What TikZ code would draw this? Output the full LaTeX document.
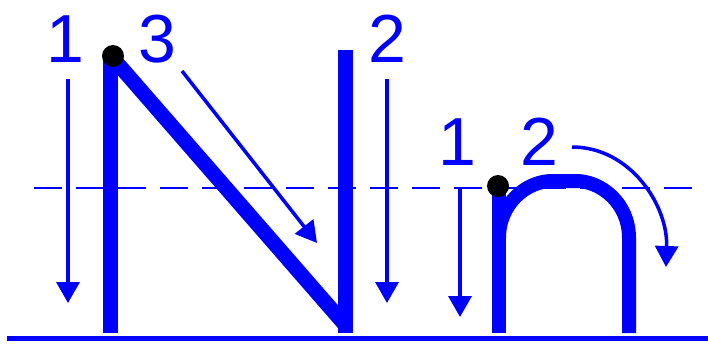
\documentclass[tikz,border=0pt]{standalone}
\usepackage{fontspec}
\setmainfont{Liberation Sans}
\usetikzlibrary{arrows.meta, positioning}
\definecolor{penblue}{HTML}{0000FF}

\begin{document}
\begin{tikzpicture}[
  x=1pt, y=-1pt,
  digit/.style={font=\fontsize{68}{68}\selectfont, text=penblue,
    inner sep=0pt, anchor=base},
  letter/.style={draw=penblue, line width=15pt, line cap=butt},
  startdot/.style={circle, fill=black, minimum size=22pt, inner sep=0pt},
  guide/.style={draw=penblue, line width=3.5pt, -{Triangle[length=21pt, width=23pt]}},
  baserule/.style={draw=penblue, line width=5pt},
  midrule/.style={draw=penblue, line width=2.5pt, dash pattern=on 28pt off 14pt},
]
  \useasboundingbox (0,0) rectangle (708,346);

  % writing lines
  \coordinate (base-l) at (7,338);
  \coordinate (base-r) at (708,338);
  \coordinate (mid-l) at (34,188);
  \coordinate (mid-r) at (695,188);
  \draw[midrule] (mid-l) -- (mid-r);
  \draw[baserule] (base-l) -- (base-r);

  % capital N
  \draw[letter] (110.5,333) -- (110.5,56);
  \draw[letter] (111,56) -- (347,327);
  \draw[letter] (345.5,333) -- (345.5,50);
  \node[startdot] (dotN) at (113,56) {};

  % small n
  \draw[letter, line width=14pt] (499,333) -- (499,186);
  \draw[letter, line width=14pt] (499,238) .. controls (499,203) and (527,181) .. (552,181)
    -- (576,181) .. controls (601,181) and (629,203) .. (629,238) -- (629,333);
  \node[startdot] (dotn) at (498,186) {};

  % stroke numbers
  \node[digit] (capOne) at (65.7,62) {1};
  \node[digit] (capThree) at (157.5,62.5) {3};
  \node[digit] (capTwo) at (387.2,62) {2};
  \node[digit] (smallOne) at (457.7,165) {1};
  \node[digit] (smallTwo) at (539.2,165) {2};

  % stroke directions
  \coordinate (capOne-s) at (68,79);
  \coordinate (capOne-e) at (68,303);
  \coordinate (capThree-s) at (182,71);
  \coordinate (capThree-e) at (317,243);
  \coordinate (capTwo-s) at (387,79);
  \coordinate (capTwo-e) at (387,303);
  \coordinate (smallOne-s) at (460,187);
  \coordinate (smallOne-e) at (460,317);
  \coordinate (smallTwo-s) at (572,147);
  \coordinate (smallTwo-e) at (666,267);
  \draw[guide] (capOne-s) -- (capOne-e);
  \draw[guide] (capThree-s) -- (capThree-e);
  \draw[guide] (capTwo-s) -- (capTwo-e);
  \draw[guide] (smallOne-s) -- (smallOne-e);
  \draw[guide] (smallTwo-s) .. controls (630,147) and (668,205) .. (smallTwo-e);
\end{tikzpicture}
\end{document}
